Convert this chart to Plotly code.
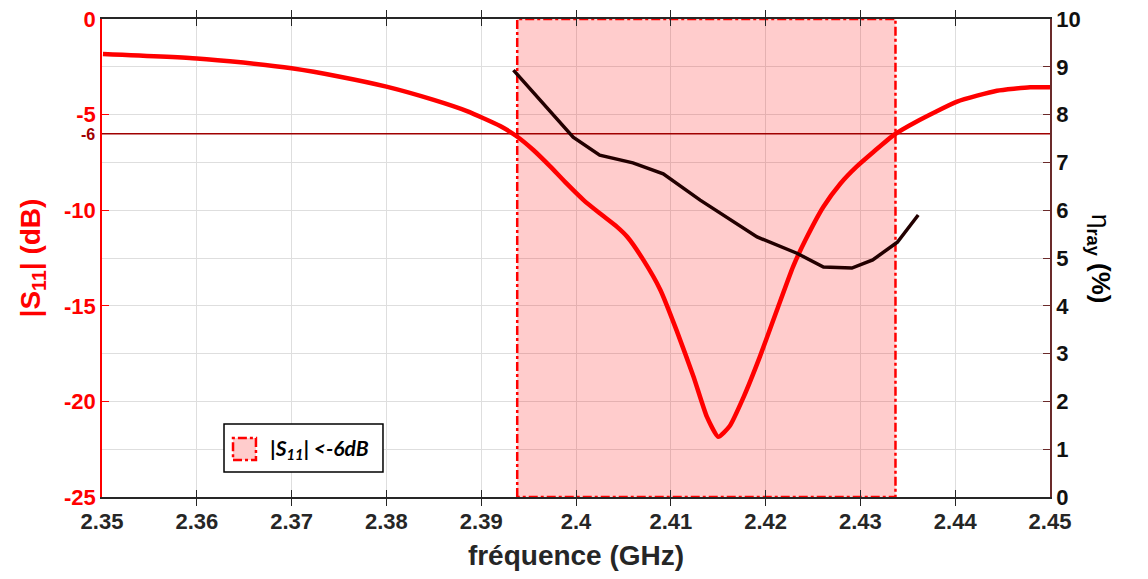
import plotly.graph_objects as go

# ---- data ----
freq_s11 = [2.3501, 2.3600, 2.3649, 2.3700, 2.3751, 2.3800, 2.3849, 2.3885, 2.3920, 2.3937,
            2.3955, 2.3973, 2.3990, 2.4008, 2.4025, 2.4043, 2.4054, 2.4071, 2.4089, 2.4106,
            2.4124, 2.4138, 2.4150, 2.4162, 2.4177, 2.4194, 2.4212, 2.4229, 2.4242, 2.4261,
            2.4279, 2.4296, 2.4314, 2.4335, 2.4359, 2.4402, 2.4444, 2.4479, 2.4500]
s11_db = [-1.83, -2.06, -2.28, -2.58, -3.02, -3.54, -4.22, -4.82, -5.6, -6.12,
          -6.85, -7.72, -8.6, -9.47, -10.16, -10.86, -11.39, -12.6, -14.17, -16.27,
          -18.71, -20.8, -21.85, -21.3, -19.75, -17.66, -15.22, -12.95, -11.56, -9.82,
          -8.6, -7.72, -6.94, -6.07, -5.37, -4.32, -3.75, -3.57, -3.57]

freq_eta = [2.3934, 2.3997, 2.4025, 2.4060, 2.4092, 2.4131, 2.4191, 2.4233,
            2.4261, 2.4291, 2.4313, 2.4339, 2.4361]
eta_pct = [8.93, 7.53, 7.15, 6.99, 6.76, 6.21, 5.44, 5.1, 4.81, 4.79, 4.96, 5.33, 5.9]

band_lo, band_hi = 2.3938, 2.4337
threshold_db = -6
s11_range = [-25, 0]
eta_range = [0, 10]

x_tickvals = [2.35, 2.36, 2.37, 2.38, 2.39, 2.40, 2.41, 2.42, 2.43, 2.44, 2.45]
x_ticktext = ["2.35", "2.36", "2.37", "2.38", "2.39", "2.4", "2.41", "2.42", "2.43", "2.44", "2.45"]
y_tickvals = [0, -5, -10, -15, -20, -25]
y_ticktext = ["0", "-5", "-10", "-15", "-20", "-25"]
y2_tickvals = list(range(0, 11))
legend_label = "|S<sub>11</sub>| &lt;-6dB"

FONT = "Arial"

fig = go.Figure()

# band |S11| < -6 dB
fig.add_trace(go.Scatter(
    x=[band_lo, band_lo, band_hi, band_hi, band_lo],
    y=[s11_range[0], s11_range[1], s11_range[1], s11_range[0], s11_range[0]],
    fill="toself", fillcolor="rgba(255,0,0,0.2)",
    line=dict(color="#ff0000", width=2.5, dash="dashdot"),
    mode="lines", showlegend=False, hoverinfo="skip",
))

# -6 dB line
fig.add_trace(go.Scatter(
    x=[x_tickvals[0], x_tickvals[-1]], y=[threshold_db, threshold_db],
    mode="lines", line=dict(color="#a00000", width=1.5), showlegend=False,
))

# S11 curve
fig.add_trace(go.Scatter(
    x=freq_s11, y=s11_db, mode="lines",
    line=dict(color="#ff0000", width=4.5, shape="spline", smoothing=0.5),
    showlegend=False,
))

# efficiency
fig.add_trace(go.Scatter(
    x=freq_eta, y=eta_pct, mode="lines", line=dict(color="#220000", width=3.5),
    yaxis="y2", showlegend=False,
))

# manual legend box (paper coords)
lx0, lx1, ly0, ly1 = 0.1287, 0.2964, 0.0523, 0.1527
sx0, sx1, sy0, sy1 = 0.1382, 0.1624, 0.0774, 0.1234
shapes = [
    dict(type="rect", xref="paper", yref="paper", x0=lx0, x1=lx1, y0=ly0, y1=ly1,
         fillcolor="white", line=dict(color="black", width=1.5), layer="above"),
    dict(type="rect", xref="paper", yref="paper", x0=sx0, x1=sx1, y0=sy0, y1=sy1,
         fillcolor="#ffcccc", line=dict(color="#ff0000", width=2.5, dash="dashdot"), layer="above"),
]

# page body has an 8px margin, so the figure is sized 8px smaller
fig.update_layout(
    width=1140, height=571,
    margin=dict(l=94, r=98, t=11, b=82, autoexpand=False),
    paper_bgcolor="white", plot_bgcolor="white",
    font=dict(family=FONT),
    showlegend=False,
    shapes=shapes,
    xaxis=dict(
        range=[2.35, 2.45], tickvals=x_tickvals, ticktext=x_ticktext,
        tickfont=dict(size=22, color="#262626", weight="bold"),
        ticks="inside", ticklen=7, tickcolor="#262626", ticklabelstandoff=4,
        showgrid=True, gridcolor="#dedede", gridwidth=1,
        showline=True, linecolor="#262626", linewidth=1.5, mirror="allticks",
        zeroline=False, automargin=False, ticklabeloverflow="allow",
        title=dict(text="fréquence (GHz)", font=dict(size=28, color="#262626", weight="bold"), standoff=12),
    ),
    yaxis=dict(
        range=s11_range, tickvals=y_tickvals, ticktext=y_ticktext,
        tickfont=dict(size=22, color="#ff0000", weight="bold"),
        ticks="inside", ticklen=7, tickcolor="#ff0000",
        showgrid=False, zeroline=False, automargin=False, ticklabeloverflow="allow",
        showline=True, linecolor="#ff0000", linewidth=1.5,
        title=dict(text="|S<sub>11</sub>| (dB)", font=dict(size=28, color="#ff0000", weight="bold"), standoff=15),
    ),
    yaxis2=dict(
        range=eta_range, tickvals=y2_tickvals, overlaying="y", side="right",
        tickfont=dict(size=22, color="#111111", weight="bold"),
        ticks="inside", ticklen=7, tickcolor="#6b2a2a",
        showgrid=True, gridcolor="#dedede", gridwidth=1, zeroline=False, automargin=False,
        ticklabeloverflow="allow",
        showline=True, linecolor="#6b2a2a", linewidth=1.5,
    ),
    annotations=[
        dict(text="<b>-6</b>", x=0, xref="paper", y=threshold_db, yref="y",
             xanchor="right", yanchor="middle", xshift=-5, yshift=-1, showarrow=False,
             font=dict(size=16, color="#a00000")),
        dict(text="η<b><sub>ray</sub> (%)</b>", x=1, xref="paper", y=0.5, yref="paper",
             xanchor="center", yanchor="middle", xshift=50, textangle=90, showarrow=False,
             font=dict(size=26, color="black")),
        dict(text=legend_label, x=0.175, xref="paper", y=(sy0 + sy1) / 2, yref="paper",
             xanchor="left", yanchor="middle", showarrow=False,
             font=dict(family="Lato", size=21, color="black", style="italic", weight="bold")),
    ],
)

fig.write_html("out.html")
